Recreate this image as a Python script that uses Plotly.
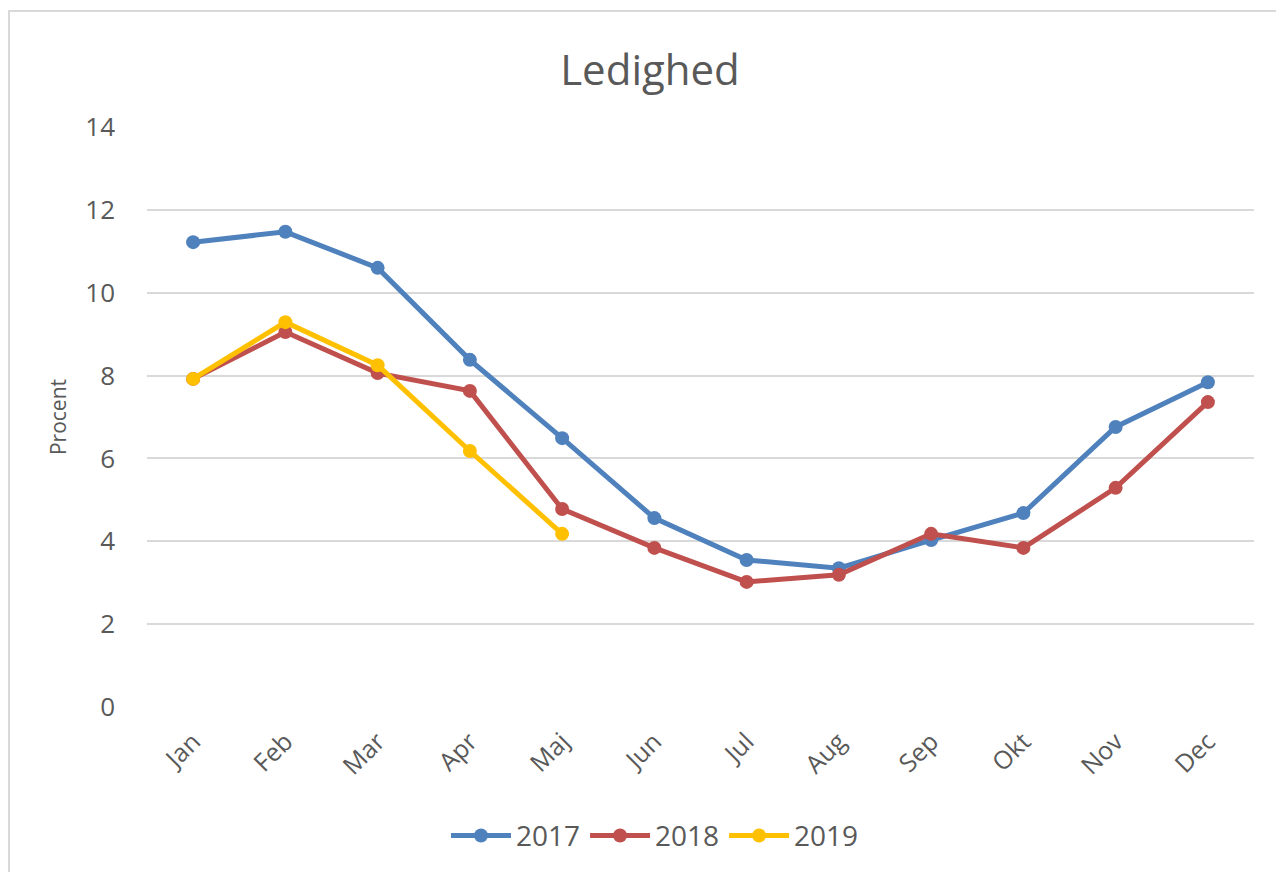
import plotly.graph_objects as go

months = ["Jan", "Feb", "Mar", "Apr", "Maj", "Jun", "Jul", "Aug", "Sep", "Okt", "Nov", "Dec"]
y2017 = [11.22, 11.47, 10.60, 8.38, 6.49, 4.56, 3.55, 3.35, 4.03, 4.68, 6.76, 7.84]
y2018 = [7.92, 9.05, 8.06, 7.63, 4.78, 3.84, 3.02, 3.19, 4.18, 3.84, 5.29, 7.36]
y2019 = [7.92, 9.29, 8.25, 6.18, 4.18]

series = [("2017", y2017, "#4F81BD"), ("2018", y2018, "#C0504D"), ("2019", y2019, "#FFC000")]

FONT = "Open Sans"
TXT = "#595959"

fig = go.Figure()
for name, vals, col in series:
    fig.add_trace(go.Scatter(
        x=months[:len(vals)], y=vals, name=name, mode="lines+markers",
        line=dict(color=col, width=5),
        marker=dict(color=col, size=14),
    ))

L, T = 139, 119
fig.update_layout(
    width=1284, height=872,
    margin=dict(l=L, r=38, t=T, b=173),
    paper_bgcolor="white", plot_bgcolor="white",
    font=dict(family=FONT, color=TXT),
    title=dict(text="Ledighed", x=0.5, xanchor="center", y=0.928, yanchor="middle",
               font=dict(size=42, color=TXT, family=FONT)),
    showlegend=True,
    legend=dict(orientation="h", x=(655 - 147) / 1107, xanchor="center", y=-0.222, yanchor="middle",
                font=dict(size=28, color=TXT, family=FONT), itemwidth=60,
                traceorder="normal"),
    xaxis=dict(categoryorder="array", categoryarray=months, range=[-0.5, 11.5],
               tickangle=-45, tickfont=dict(size=25, color=TXT, family=FONT),
               showgrid=False, showline=False, zeroline=False, ticks="",
               ticklabelstandoff=14),
    yaxis=dict(range=[0, 14], dtick=2, tickfont=dict(size=26, color=TXT, family=FONT),
               gridcolor="#D9D9D9", gridwidth=2, zeroline=False, showline=False,
               ticklabelstandoff=31,
               title=dict(text="Procent", font=dict(size=21, color=TXT, family=FONT), standoff=12)),
    shapes=[dict(type="rect", xref="paper", yref="paper",
                 x0=(9 - 147) / 1107, x1=1.2, y0=-0.5, y1=(707 - 11) / 580,
                 line=dict(color="#D9D9D9", width=2), fillcolor="rgba(0,0,0,0)", layer="below")],
)

fig.write_html("out.html")
